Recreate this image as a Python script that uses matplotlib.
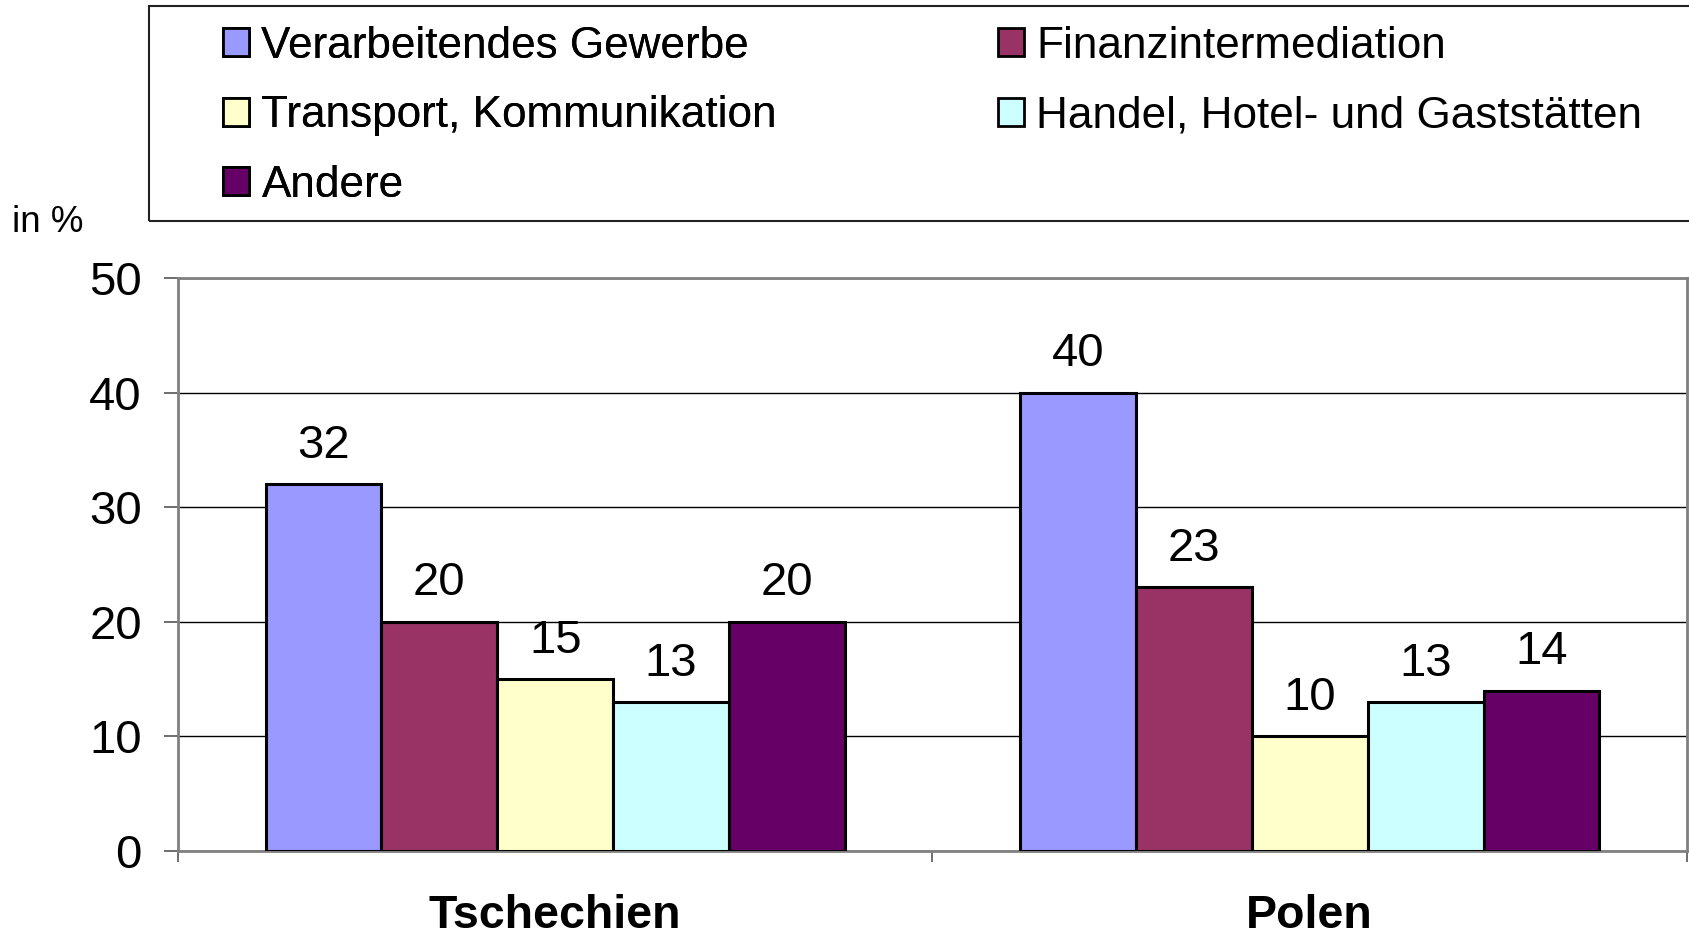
import matplotlib
matplotlib.use("Agg")
import matplotlib.pyplot as plt
from matplotlib.patches import Patch, Rectangle
import numpy as np

plt.rcParams['font.family'] = ['Liberation Sans', 'DejaVu Sans']

categories = ["Tschechien", "Polen"]
series_names = ["Verarbeitendes Gewerbe", "Finanzintermediation",
                "Transport, Kommunikation", "Handel, Hotel- und Gaststätten", "Andere"]
verarbeitendes = [32, 40]
finanz = [20, 23]
transport = [15, 10]
handel = [13, 13]
andere = [20, 14]
series_values = [verarbeitendes, finanz, transport, handel, andere]
colors = ["#9999FF", "#993366", "#FFFFCC", "#CCFFFF", "#660066"]
yticks = [0, 10, 20, 30, 40, 50]

W, H = 1690, 939
fig = plt.figure(figsize=(W / 100, H / 100), dpi=100)
ax = fig.add_axes([178 / W, 1 - 851 / H, (1687 - 178) / W, (851 - 278) / H])

x = np.arange(len(categories))
bw = 0.1536
handles = []
for i, (name, vals, c) in enumerate(zip(series_names, series_values, colors)):
    pos = x + (i - 2) * bw
    ax.bar(pos, vals, width=bw, color=c, edgecolor="black", linewidth=2.2, zorder=3)
    for p, v in zip(pos, vals):
        ax.annotate(f"{v}", (p, v), xytext=(0, 19), textcoords="offset points",
                    ha="center", va="baseline", fontsize=34, color="black")
    handles.append(Patch(facecolor=c, edgecolor="black", linewidth=2))

ax.set_xlim(-0.5, 1.5)
ax.set_ylim(0, 50)
ax.set_yticks(yticks)
ax.set_yticklabels([str(t) for t in yticks], fontsize=34)
ax.yaxis.grid(True, color="black", linewidth=1.0, zorder=0)
ax.tick_params(axis="y", direction="out", length=10, width=1.2, color="#555555", pad=16)

ax.set_xticks(x)
ax.set_xticklabels(categories, fontsize=33.5, fontweight="bold")
ax.tick_params(axis="x", which="major", length=0, pad=31)
ax.set_xticks([-0.5, 0.5, 1.5], minor=True)
ax.tick_params(axis="x", which="minor", direction="out", length=8, width=1.2, color="#555555")

for s in ax.spines.values():
    s.set_color("#808080")
    s.set_linewidth(2)

# legend frame
fig.add_artist(Rectangle((149 / W, 1 - 221 / H), (1700 - 149) / W, (221 - 6) / H,
                         transform=fig.transFigure, fill=False, edgecolor="#222222",
                         linewidth=1.5))

leg_kw = dict(loc="upper left", frameon=False, borderpad=0, borderaxespad=0,
              handlelength=0.6, handleheight=0.6, handletextpad=0.27,
              labelspacing=0.64, fontsize=31.8)
order1 = [0, 2, 4]
order2 = [1, 3]
l1 = fig.legend([handles[i] for i in order1], [series_names[i] for i in order1],
                bbox_to_anchor=(223 / W, 1 - 26 / H), **leg_kw)
fig.add_artist(l1)
fig.legend([handles[i] for i in order2], [series_names[i] for i in order2],
           bbox_to_anchor=(998 / W, 1 - 26 / H), **leg_kw)

fig.text(48 / W, 1 - 223 / H, "in %", fontsize=26.5, ha="center", va="center")

fig.savefig("out.png", dpi=100)
